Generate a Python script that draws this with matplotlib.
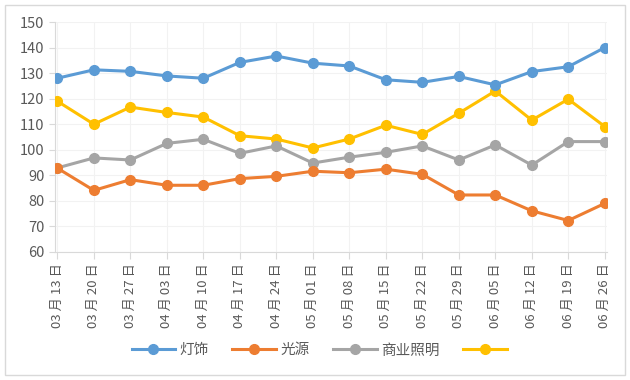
import matplotlib.pyplot as plt
from matplotlib.lines import Line2D
from matplotlib.patches import Rectangle

plt.rcParams['font.family'] = ['Noto Sans CJK SC', 'DejaVu Sans']

dates = ["03 月 13 日", "03 月 20 日", "03 月 27 日", "04 月 03 日", "04 月 10 日", "04 月 17 日",
         "04 月 24 日", "05 月 01 日", "05 月 08 日", "05 月 15 日", "05 月 22 日", "05 月 29 日",
         "06 月 05 日", "06 月 12 日", "06 月 19 日", "06 月 26 日"]

dengshi = [128.0, 131.3, 130.7, 128.9, 128.0, 134.2, 136.7, 133.9,
           132.8, 127.4, 126.4, 128.7, 125.4, 130.6, 132.5, 140.0]
guangyuan = [92.8, 84.1, 88.3, 86.1, 86.1, 88.7, 89.6, 91.6,
             91.0, 92.4, 90.4, 82.3, 82.3, 76.1, 72.3, 79.0]
shangye = [92.9, 96.8, 96.0, 102.5, 104.1, 98.6, 101.5, 94.8,
           97.1, 99.0, 101.5, 96.0, 101.9, 94.0, 103.2, 103.2]
other = [119.0, 110.0, 116.7, 114.6, 112.8, 105.5, 104.2, 100.7,
         104.2, 109.6, 106.0, 114.3, 123.0, 111.6, 119.8, 109.1]

names = ["灯饰", "光源", "商业照明", ""]
colors = ["#5B9BD5", "#ED7D31", "#A5A5A5", "#FFC000"]

fig = plt.figure(figsize=(6.3, 3.8), dpi=100)
ax = fig.add_axes([0.087, 0.337, 0.877, 0.605])

x = list(range(len(dates)))
series = [dengshi, guangyuan, shangye, other]
order = [3, 2, 1, 0]
handles = []
for i in order:
    ax.plot(x, series[i], color=colors[i], lw=2.2, marker="o", ms=7,
            zorder=3 + (3 - i) * 0.1)
for i in range(4):
    handles.append(Line2D([], [], color=colors[i], lw=2.2, marker="o", ms=7))

ax.set_ylim(60, 150)
ax.set_yticks(range(60, 151, 10))
ax.set_xlim(-0.07, 15.07)
ax.set_xticks(x)
ax.set_xticklabels(dates, rotation=90, fontsize=9.5, color="#595959")
ax.tick_params(axis="y", labelsize=10.5, labelcolor="#595959", length=4,
               color="#D9D9D9")
ax.tick_params(axis="x", length=5, color="#D9D9D9", pad=3)
ax.grid(True, color="#F2F2F2", lw=0.8, zorder=0)

for s in ["top", "right"]:
    ax.spines[s].set_visible(False)
for s in ["left", "bottom"]:
    ax.spines[s].set_color("#D9D9D9")

leg = fig.legend(handles, names, loc="center", bbox_to_anchor=(0.51, 0.078),
                 ncol=4, frameon=False, fontsize=10.5, handlelength=3,
                 columnspacing=1.6, handletextpad=0.3)
for t in leg.get_texts():
    t.set_color("#595959")

fig.patches.append(Rectangle((0.008, 0.013), 0.984, 0.974, transform=fig.transFigure,
                             fill=False, edgecolor="#D9D9D9", lw=1))

fig.savefig("out.png", dpi=100)
